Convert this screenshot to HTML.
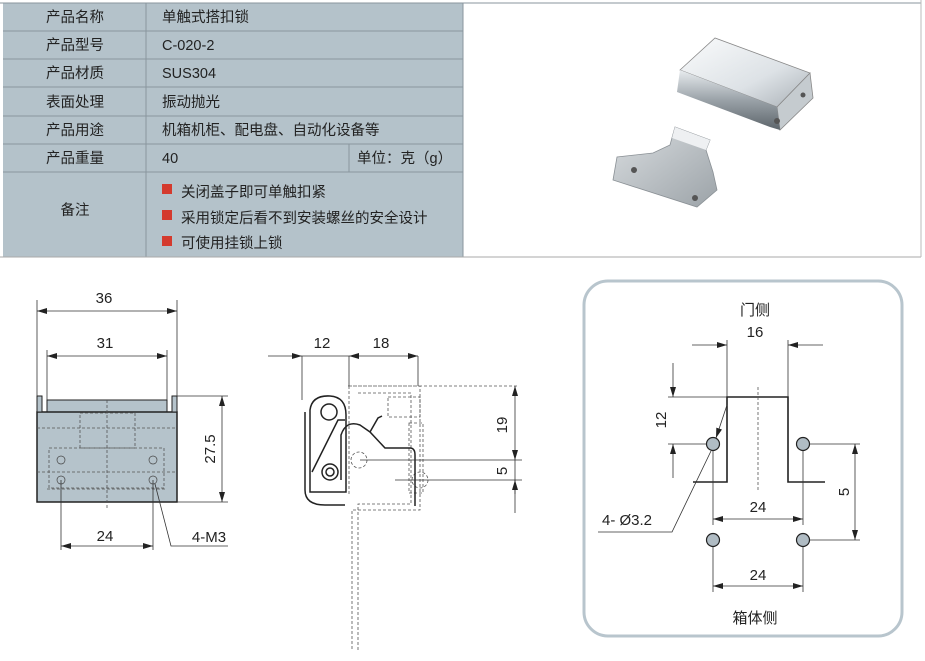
<!DOCTYPE html>
<html><head><meta charset="utf-8"><style>
body{margin:0;width:925px;height:661px;background:#fff;overflow:hidden;position:relative;font-family:"Liberation Sans","Noto Sans CJK SC",sans-serif;}
svg{position:absolute;left:0;top:0}
</style></head><body>
<svg width="925" height="661" viewBox="0 0 925 661" font-family="Liberation Sans, Noto Sans CJK SC, sans-serif">
<defs>
<marker id="a" viewBox="0 0 10 6" refX="10" refY="3" markerWidth="10" markerHeight="6" orient="auto-start-reverse" markerUnits="userSpaceOnUse"><path d="M0,0L10,3L0,6z" fill="#222"/></marker>
<linearGradient id="g1" x1="0" y1="0" x2="1" y2="1"><stop offset="0" stop-color="#fafbfc"/><stop offset=".6" stop-color="#dde2e6"/><stop offset="1" stop-color="#a9b0b6"/></linearGradient>
<linearGradient id="g2" x1="0" y1="0" x2="0" y2="1"><stop offset="0" stop-color="#e8ecef"/><stop offset=".5" stop-color="#9aa2a8"/><stop offset="1" stop-color="#5d656b"/></linearGradient>
<linearGradient id="g3" x1="0" y1="0" x2="1" y2="1"><stop offset="0" stop-color="#d9dde0"/><stop offset="1" stop-color="#9ca3a8"/></linearGradient>
</defs>
<!-- table -->
<rect x="3" y="3" width="460" height="254" fill="#b4c2ca"/>
<g stroke="#8a969e" stroke-width="1">
<line x1="0" y1="3" x2="921" y2="3"/>
<line x1="3" y1="31" x2="463" y2="31"/><line x1="3" y1="59" x2="463" y2="59"/><line x1="3" y1="87" x2="463" y2="87"/>
<line x1="3" y1="116" x2="463" y2="116"/><line x1="3" y1="144" x2="463" y2="144"/><line x1="3" y1="172" x2="463" y2="172"/>
<line x1="146" y1="3" x2="146" y2="257"/><line x1="349" y1="144" x2="349" y2="172"/>
<line x1="463" y1="3" x2="463" y2="257"/>
<line x1="0" y1="257" x2="921" y2="257" stroke="#aaa"/><line x1="921" y1="0" x2="921" y2="257" stroke="#bbb"/>
</g>
<g font-size="14.5" fill="#222">
<g text-anchor="middle"><text x="75" y="22">产品名称</text><text x="75" y="50">产品型号</text><text x="75" y="78">产品材质</text><text x="75" y="107">表面处理</text><text x="75" y="135">产品用途</text><text x="75" y="163">产品重量</text><text x="75" y="215">备注</text></g>
<text x="162" y="22">单触式搭扣锁</text><text x="162" y="50">C-020-2</text><text x="162" y="78">SUS304</text><text x="162" y="107">振动抛光</text><text x="162" y="135">机箱机柜、配电盘、自动化设备等</text><text x="162" y="163">40</text><text x="357" y="163">单位：克（g）</text>
<rect x="162" y="184" width="10" height="10" fill="#d43a2e"/><text x="181" y="197">关闭盖子即可单触扣紧</text>
<rect x="162" y="210" width="10" height="10" fill="#d43a2e"/><text x="181" y="223">采用锁定后看不到安装螺丝的安全设计</text>
<rect x="162" y="236" width="10" height="10" fill="#d43a2e"/><text x="181" y="248">可使用挂锁上锁</text>
</g>
<!-- product photo -->
<g>
<path d="M680,70 L715,38 L810,73 L777,107 Z" fill="url(#g1)" stroke="#888" stroke-width=".8"/>
<path d="M810,73 L813,98 L780,130 L777,107 Z" fill="#c5cbcf" stroke="#888" stroke-width=".8"/>
<path d="M680,70 L777,107 L780,130 L770,127 L677,92 Z" fill="url(#g2)"/>
<circle cx="777" cy="121" r="3" fill="#555"/><circle cx="803" cy="95" r="2.5" fill="#555"/>
<path d="M675,127 L710,140 L706,150 L713,172 L717,190 L697,207 L613,180 L617,157 L653,153 L670,145 Z" fill="url(#g3)" stroke="#8a9095" stroke-width=".8"/>
<path d="M675,127 L710,140 L706,150 L672,138Z" fill="#eef0f2"/>
<circle cx="634" cy="170" r="3" fill="#555"/><circle cx="695" cy="198" r="3" fill="#555"/>
</g>
<!-- left drawing -->
<g stroke="#222" stroke-width="1" fill="none">
<rect x="47" y="400" width="120" height="12" fill="#b5c3cb"/>
<rect x="37" y="412" width="140" height="90" fill="#b5c3cb" stroke-width="1.5"/>
<rect x="37" y="396" width="5" height="16" fill="#b5c3cb"/><rect x="172" y="396" width="5" height="16" fill="#b5c3cb"/>
<g stroke-dasharray="3,2" stroke="#555" stroke-width=".8">
<line x1="37" y1="428" x2="177" y2="428"/><line x1="37" y1="472" x2="177" y2="472"/><line x1="47" y1="489" x2="167" y2="489"/>
<rect x="80" y="413" width="55" height="35"/><rect x="49" y="448" width="115" height="40"/><line x1="107" y1="400" x2="107" y2="510"/>
</g>
<g stroke="#444" stroke-width=".7"><circle cx="61" cy="460" r="4"/><circle cx="61" cy="480" r="4"/><circle cx="153" cy="460" r="4"/><circle cx="153" cy="480" r="4"/></g>
</g>
<g stroke="#333" stroke-width=".8" fill="none">
<line x1="37" y1="300" x2="37" y2="396"/><line x1="177" y1="300" x2="177" y2="396"/>
<line x1="47" y1="350" x2="47" y2="400"/><line x1="167" y1="350" x2="167" y2="400"/>
<line x1="37" y1="311" x2="177" y2="311" marker-start="url(#a)" marker-end="url(#a)"/>
<line x1="47" y1="356" x2="167" y2="356" marker-start="url(#a)" marker-end="url(#a)"/>
<line x1="177" y1="396" x2="228" y2="396"/><line x1="177" y1="502" x2="228" y2="502"/>
<line x1="222" y1="396" x2="222" y2="502" marker-start="url(#a)" marker-end="url(#a)"/>
<line x1="61" y1="480" x2="61" y2="550"/><line x1="153" y1="480" x2="153" y2="550"/>
<line x1="61" y1="546" x2="153" y2="546" marker-start="url(#a)" marker-end="url(#a)"/>
<polyline points="228,546 171,546 155,484"/>
</g>
<g font-size="15" fill="#222" text-anchor="middle">
<text x="104" y="303">36</text><text x="105" y="348">31</text><text x="105" y="541">24</text><text x="209" y="542">4-M3</text>
<text transform="translate(215,449) rotate(-90)">27.5</text>
</g>
<!-- middle drawing -->
<g stroke="#555" stroke-width=".8" stroke-dasharray="3,2" fill="none">
<path d="M349,386 L518,386 M349,386 L349,494 M348,386 L420,386 L420,510 L352,510 L352,650 M358,393 L411,393 L411,504 L358,504 L358,650"/>
<rect x="388" y="397" width="32" height="20"/><rect x="409" y="423" width="14" height="70"/>
<circle cx="359" cy="460" r="8"/><circle cx="420" cy="480" r="8"/>
</g>
<g stroke="#222" stroke-width="1.5" fill="none">
<path d="M305,412 L305,490 Q305,505 325,505 L345,505"/>
<path d="M310,410 Q312,395 330,396 Q346,397 346,415 L346,492 L310,492 Z" fill="#fff"/>
<circle cx="329" cy="412" r="8"/><circle cx="330" cy="472" r="8"/><circle cx="330" cy="472" r="4"/>
<path d="M312,472 L338,420 L345,420"/>
<path d="M341,480 L341,435 Q346,420 360,425 L370,432 L385,448 L410,448 Q415,448 415,455 L415,506"/>
<path d="M370,432 L378,418 L382,416"/>
</g>
<g stroke="#333" stroke-width=".8" fill="none">
<line x1="302" y1="356" x2="302" y2="400"/><line x1="349" y1="356" x2="349" y2="386"/><line x1="418" y1="356" x2="418" y2="386"/>
<line x1="268" y1="356" x2="302" y2="356" marker-end="url(#a)"/>
<line x1="302" y1="356" x2="349" y2="356"/>
<line x1="349" y1="356" x2="418" y2="356" marker-start="url(#a)" marker-end="url(#a)"/>
<line x1="360" y1="460" x2="522" y2="460"/><line x1="395" y1="480" x2="522" y2="480"/>
<line x1="515" y1="386" x2="515" y2="460" marker-start="url(#a)" marker-end="url(#a)"/>
<line x1="515" y1="460" x2="515" y2="513"/>
<line x1="515" y1="494" x2="515" y2="480" marker-end="url(#a)"/>
</g>
<g font-size="15" fill="#222" text-anchor="middle">
<text x="322" y="348">12</text><text x="381" y="348">18</text>
<text transform="translate(507,425) rotate(-90)">19</text><text transform="translate(507,471) rotate(-90)">5</text>
</g>
<!-- right panel -->
<rect x="584" y="281" width="318" height="355" rx="24" fill="none" stroke="#b8c5cd" stroke-width="3"/>
<g stroke="#222" stroke-width="1.6" fill="none"><polyline points="693,482 727,482 727,397 788,397 788,482 825,482"/></g>
<line x1="758" y1="387" x2="758" y2="492" stroke="#555" stroke-dasharray="3,2" stroke-width=".8"/>
<g stroke="#333" stroke-width=".8" fill="none">
<line x1="727" y1="340" x2="727" y2="397"/><line x1="788" y1="340" x2="788" y2="397"/>
<line x1="692" y1="345" x2="727" y2="345" marker-end="url(#a)"/><line x1="823" y1="345" x2="788" y2="345" marker-end="url(#a)"/>
<line x1="668" y1="397" x2="727" y2="397"/><line x1="668" y1="444" x2="713" y2="444"/>
<line x1="673" y1="363" x2="673" y2="397" marker-end="url(#a)"/><line x1="673" y1="478" x2="673" y2="444" marker-end="url(#a)"/>
<line x1="803" y1="444" x2="860" y2="444"/><line x1="803" y1="540" x2="860" y2="540"/>
<line x1="855" y1="444" x2="855" y2="540" marker-start="url(#a)" marker-end="url(#a)"/>
<line x1="713" y1="444" x2="713" y2="525"/><line x1="803" y1="444" x2="803" y2="525"/>
<line x1="713" y1="519" x2="803" y2="519" marker-start="url(#a)" marker-end="url(#a)"/>
<line x1="713" y1="540" x2="713" y2="592"/><line x1="803" y1="540" x2="803" y2="592"/>
<line x1="713" y1="586" x2="803" y2="586" marker-start="url(#a)" marker-end="url(#a)"/>
<polyline points="598,532 672,532 711,451"/><line x1="727" y1="405" x2="716" y2="438" marker-end="url(#a)"/>
</g>
<g fill="#b0bcc4" stroke="#222" stroke-width="1.2"><circle cx="713" cy="444" r="6.5"/><circle cx="803" cy="444" r="6.5"/><circle cx="713" cy="540" r="6.5"/><circle cx="803" cy="540" r="6.5"/></g>
<g font-size="15" fill="#222" text-anchor="middle">
<text x="755" y="315">门侧</text><text x="755" y="337">16</text><text x="758" y="512">24</text><text x="758" y="580">24</text><text x="755" y="623">箱体侧</text>
<text x="627" y="525">4- Ø3.2</text>
<text transform="translate(666,420) rotate(-90)">12</text><text transform="translate(849,492) rotate(-90)">5</text>
</g>
</svg>
</body></html>
